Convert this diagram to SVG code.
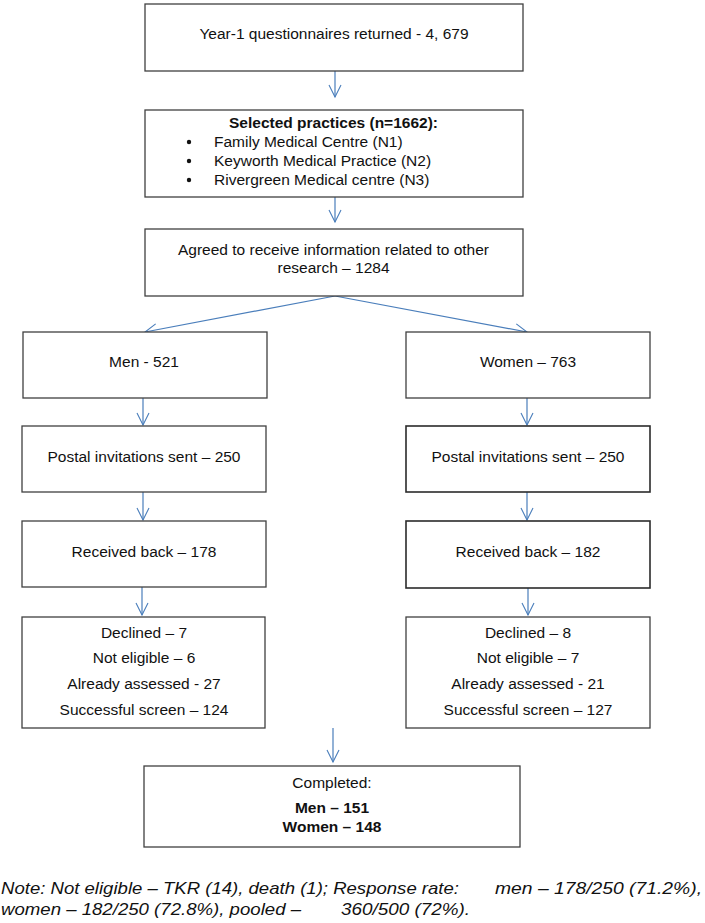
<svg xmlns="http://www.w3.org/2000/svg" width="705" height="923" viewBox="0 0 705 923">
<style>
.box{fill:#fff;stroke:#404040;stroke-width:1.3}
.box2{fill:#fff;stroke:#2b2b2b;stroke-width:1.6}
.t{font-family:"Liberation Sans",Arial,sans-serif;font-size:15.5px;fill:#111}
.c{text-anchor:middle}
.b{font-weight:bold}
.n{font-family:"Liberation Sans",Arial,sans-serif;font-size:16.5px;font-style:italic;fill:#111}
.con line{stroke:#4a7ebb;stroke-width:1.2;marker-end:url(#ah)}
</style>
<defs>
<marker id="ah" markerUnits="userSpaceOnUse" viewBox="-14 -8 16 16" markerWidth="16" markerHeight="16" refX="0" refY="0" orient="auto">
<path d="M-12,-6 L0,0 L-12,6" fill="none" stroke="#4a7ebb" stroke-width="1.1"/>
</marker>
</defs>
<rect width="705" height="923" fill="#fff"/>
<g id="connectors" class="con">
<line x1="335" y1="71" x2="335" y2="97"/>
<line x1="335" y1="197" x2="335" y2="222"/>
<line x1="335" y1="296" x2="145" y2="332"/>
<line x1="335" y1="296" x2="527" y2="332"/>
<line x1="143" y1="398" x2="143" y2="425"/>
<line x1="143" y1="492" x2="143" y2="520"/>
<line x1="142" y1="587" x2="142" y2="615"/>
<line x1="527" y1="398" x2="527" y2="425"/>
<line x1="527" y1="492" x2="527" y2="520"/>
<line x1="528" y1="588" x2="528" y2="615"/>
<line x1="333" y1="728" x2="333" y2="762"/>
</g>
<g id="n_year1">
<rect class="box" x="145" y="4" width="378" height="67"/>
<text class="t c" x="334" y="39">Year-1 questionnaires returned - 4, 679</text>
</g>
<g id="n_selected">
<rect class="box" x="145" y="110" width="378" height="87"/>
<text class="t c b" x="333.5" y="128">Selected practices (n=1662):</text>
<circle cx="189" cy="142" r="2.2" fill="#111"/>
<circle cx="189" cy="161" r="2.2" fill="#111"/>
<circle cx="189" cy="180" r="2.2" fill="#111"/>
<text class="t" x="214" y="147">Family Medical Centre (N1)</text>
<text class="t" x="214" y="166">Keyworth Medical Practice (N2)</text>
<text class="t" x="214" y="185">Rivergreen Medical centre (N3)</text>
</g>
<g id="n_agreed">
<rect class="box" x="145" y="229" width="378" height="67"/>
<text class="t c" x="333.5" y="255">Agreed to receive information related to other</text>
<text class="t c" x="333.5" y="273">research – 1284</text>
</g>
<g id="n_men">
<rect class="box" x="23" y="332" width="244" height="66"/>
<text class="t c" x="144" y="367">Men - 521</text>
</g>
<g id="n_women">
<rect class="box" x="406" y="332" width="244" height="66"/>
<text class="t c" x="528" y="367">Women – 763</text>
</g>
<g id="n_men_postal">
<rect class="box" x="22" y="426" width="244" height="66"/>
<text class="t c" x="144" y="462">Postal invitations sent – 250</text>
</g>
<g id="n_women_postal">
<rect class="box2" x="406" y="426" width="244" height="66"/>
<text class="t c" x="528" y="462">Postal invitations sent – 250</text>
</g>
<g id="n_men_received">
<rect class="box" x="22" y="521" width="244" height="66"/>
<text class="t c" x="144" y="557">Received back – 178</text>
</g>
<g id="n_women_received">
<rect class="box2" x="406" y="521" width="244" height="67"/>
<text class="t c" x="528" y="557">Received back – 182</text>
</g>
<g id="n_men_outcome">
<rect class="box" x="22" y="617" width="243" height="111"/>
<text class="t c" x="144" y="638">Declined – 7</text>
<text class="t c" x="144" y="663">Not eligible – 6</text>
<text class="t c" x="144" y="689">Already assessed - 27</text>
<text class="t c" x="144" y="715">Successful screen – 124</text>
</g>
<g id="n_women_outcome">
<rect class="box" x="406" y="617" width="244" height="111"/>
<text class="t c" x="528" y="638">Declined – 8</text>
<text class="t c" x="528" y="663">Not eligible – 7</text>
<text class="t c" x="528" y="689">Already assessed - 21</text>
<text class="t c" x="528" y="715">Successful screen – 127</text>
</g>
<g id="n_completed">
<rect class="box" x="144" y="766" width="376" height="81"/>
<text class="t c" x="332" y="788">Completed:</text>
<text class="t c b" x="332" y="813">Men – 151</text>
<text class="t c b" x="332" y="832">Women – 148</text>
</g>
<g id="note">
<text class="n" x="1" y="894" textLength="458" lengthAdjust="spacingAndGlyphs">Note: Not eligible – TKR (14), death (1); Response rate:</text>
<text class="n" x="495" y="894" textLength="207" lengthAdjust="spacingAndGlyphs">men – 178/250 (71.2%),</text>
<text class="n" x="1" y="915" textLength="300" lengthAdjust="spacingAndGlyphs">women – 182/250 (72.8%), pooled –</text>
<text class="n" x="341" y="915" textLength="129" lengthAdjust="spacingAndGlyphs">360/500 (72%).</text>
</g>
</svg>
